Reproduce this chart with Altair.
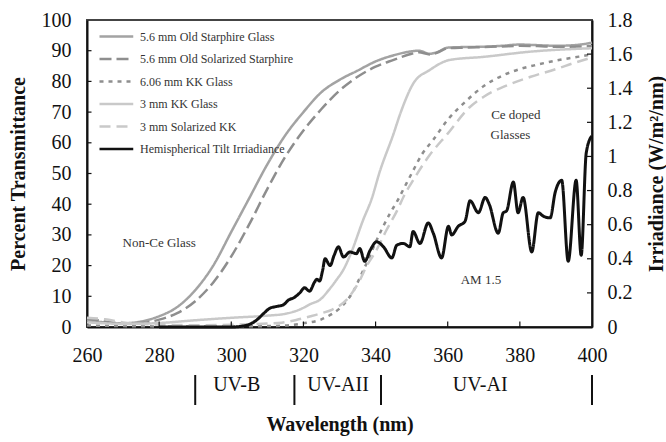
import altair as alt
import pandas as pd

# ---------------- data ----------------
series_names = [
    "5.6 mm Old Starphire Glass",
    "5.6 mm Old Solarized Starphire",
    "6.06 mm KK Glass",
    "3 mm KK Glass",
    "3 mm Solarized KK",
    "Hemispherical Tilt Irriadiance",
]
series_colors = ["#a3a3a3", "#8e8e8e", "#8e8e8e", "#c9c9c9", "#c9c9c9", "#111111"]
series_dashes = [[1, 0], [12, 5], [4, 5], [1, 0], [11, 6], [1, 0]]

starphire_wl = [260, 265, 270, 275, 280, 285, 290, 295, 300, 305, 310, 315, 320, 325, 330,
                335, 340, 345, 350, 352, 355, 357, 360, 365, 370, 375, 380, 385, 390, 395, 400]
starphire_t = [2.2, 1.5, 1.2, 1.8, 3.5, 6.5, 12, 20, 31, 42, 53, 62.5, 70, 76.5, 80.5,
               83.5, 86.5, 88.5, 89.8, 90, 89, 89.5, 91, 91.2, 91.3, 91.6, 92, 91.8, 91.6, 91.8, 92.6]

sol_star_wl = [260, 265, 270, 275, 280, 285, 290, 295, 300, 305, 310, 315, 320, 325, 330,
               335, 340, 345, 350, 352, 355, 357, 360, 365, 370, 375, 380, 385, 390, 395, 400]
sol_star_t = [2.8, 1.8, 1.2, 1.3, 2.4, 4.5, 8.4, 14.5, 23, 33.5, 45, 55.5, 64, 71, 77,
              81.5, 84.8, 87, 89, 89.5, 88.8, 89.3, 90.8, 91, 91.2, 91.4, 91.6, 91.5, 91.3, 91.3, 91.5]

kk606_wl = [260, 270, 280, 290, 300, 310, 315, 320, 325, 328, 330, 332, 334, 336, 338, 340,
            342, 344, 346, 348, 350, 353, 356, 360, 365, 370, 375, 380, 385, 390, 395, 400]
kk606_t = [0.5, 0.3, 0.2, 0.2, 0.2, 0.3, 0.5, 1.2, 2.5, 4.3, 6, 8.5, 12, 17, 22, 27.5,
           32.5, 37, 41, 45.5, 50, 56.5, 61, 67.5, 73.5, 78.5, 81.8, 84, 85.5, 86.8, 87.8, 88.8]

kk3_wl = [260, 265, 270, 280, 290, 300, 310, 315, 319, 322, 324.6, 327, 329.2, 331, 333,
          336.6, 339, 341, 345, 347, 350.5, 355, 360.6, 370, 383, 400]
kk3_t = [1.5, 1.2, 1.0, 1.3, 2.2, 3.0, 3.7, 4.3, 5.7, 7.5, 8.9, 12, 15.4, 18.5, 23.5,
         35, 42, 50, 63, 70, 79.4, 83.7, 87, 88, 89.7, 90.8]

kk3sol_wl = [260, 265, 270, 280, 290, 300, 305, 310, 314, 318, 322, 325, 328, 332, 335.7,
             337.5, 340, 343, 346, 348, 350, 355, 360, 366, 370, 377, 383, 390, 395, 400]
kk3sol_t = [3, 2.5, 1.5, 0.8, 0.6, 0.7, 0.9, 1.1, 1.4, 2.3, 3.5, 4.5, 5.7, 8.9, 15.4,
            19.8, 24.5, 31.5, 38, 43, 47, 56, 63, 71.5, 75, 79, 81.5, 84, 86, 87.8]

irr_wl = [280, 290, 295, 300, 303, 305, 307, 309, 310.7, 312.5, 314.4, 316, 317.2, 319, 320.3,
          321.7, 323, 323.7, 324.5, 325.3, 326, 327.4, 328.5, 329.7, 331.1, 332.9, 334.7, 335.6,
          337, 338.5, 340.3, 342.2, 344.5, 345.9, 347.7, 349.5, 350.4, 352.3, 354.6, 356, 358.3,
          360.2, 361.1, 362.9, 364.8, 366.2, 368.5, 370.4, 371.5, 374, 375.4, 376.3, 378.2,
          379.5, 380.9, 383.3, 385.1, 386.5, 388.4, 389.8, 391.6, 393.4, 395.6, 397, 398.4, 399.9]
irr_val = [0, 0, 0, 0, 0.005, 0.015, 0.04, 0.08, 0.11, 0.12, 0.13, 0.16, 0.17, 0.2, 0.23,
           0.21, 0.26, 0.28, 0.27, 0.33, 0.4, 0.36, 0.42, 0.47, 0.41, 0.44, 0.43, 0.46,
           0.385, 0.45, 0.5, 0.47, 0.405, 0.48, 0.49, 0.47, 0.56, 0.49, 0.61, 0.55, 0.405,
           0.59, 0.54, 0.59, 0.62, 0.74, 0.67, 0.76, 0.72, 0.55, 0.67, 0.68, 0.85,
           0.67, 0.76, 0.44, 0.67, 0.65, 0.64, 0.79, 0.86, 0.385, 0.86, 0.42, 1.02, 1.12]

x_tick_values = [260, 280, 300, 320, 340, 360, 380, 400]
left_tick_values = [0, 10, 20, 30, 40, 50, 60, 70, 80, 90, 100]
right_tick_values = [0, 0.2, 0.4, 0.6, 0.8, 1.0, 1.2, 1.4, 1.6, 1.8]

note_text = ["Non-Ce Glass", "Ce doped", "Glasses", "AM 1.5"]
note_wl = [280, 378.9, 377.4, 369.2]
note_pct = [27.5, 69.1, 62.6, 15.4]

uv_names = ["UV-B", "UV-AII", "UV-AI"]
uv_centers = [301.5, 329.6, 369]
uv_bounds = [290, 317.5, 341.5, 400]

# ---------------- frames ----------------
glass = pd.concat([
    pd.DataFrame({"series": series_names[0], "wl": starphire_wl, "pct": starphire_t}),
    pd.DataFrame({"series": series_names[1], "wl": sol_star_wl, "pct": sol_star_t}),
    pd.DataFrame({"series": series_names[2], "wl": kk606_wl, "pct": kk606_t}),
    pd.DataFrame({"series": series_names[3], "wl": kk3_wl, "pct": kk3_t}),
    pd.DataFrame({"series": series_names[4], "wl": kk3sol_wl, "pct": kk3sol_t}),
], ignore_index=True)
irr = pd.DataFrame({"series": series_names[5], "wl": irr_wl, "irr": irr_val})
notes = pd.DataFrame({"text": note_text, "wl": note_wl, "pct": note_pct})
uv = pd.DataFrame({"name": uv_names, "wl": uv_centers})
uvb = pd.DataFrame({"wl": uv_bounds})
xt = pd.DataFrame({"v": x_tick_values[1:-1]})
lt = pd.DataFrame({"v": left_tick_values[1:-1]})
rt = pd.DataFrame({"v": right_tick_values[1:-1]})

W, H = 505, 307
FONT = "Liberation Serif"

xscale = alt.Scale(domain=[260, 400], nice=False, zero=False)
xaxis = alt.Axis(values=x_tick_values, title="Wavelength (nm)", labelPadding=18,
                 titleY=97, titleBaseline="middle")
lscale = alt.Scale(domain=[0, 100], nice=False)
laxis = alt.Axis(values=left_tick_values, title="Percent Transmittance", orient="left",
                 labelPadding=16, titleX=-69, titleY=H / 2, titleBaseline="middle",
                 titleAngle=-90)
rscale = alt.Scale(domain=[0, 1.8], nice=False)
raxis = alt.Axis(values=right_tick_values, format="~g", title="Irriadiance (W/m²/nm)",
                 orient="right", labelPadding=15, titleX=64, titleY=H / 2,
                 titleBaseline="middle", titleAngle=-90)


def X(field):
    return alt.X(field, type="quantitative", scale=xscale, axis=xaxis)


def YL(field):
    return alt.Y(field, type="quantitative", scale=lscale, axis=laxis)


def YR(field):
    return alt.Y(field, type="quantitative", scale=rscale, axis=raxis)


legend = alt.Legend(orient="none", legendX=11, legendY=7.5, title=None,
                    symbolType="M-1,0H3.5", symbolSize=225, symbolStrokeWidth=2.5,
                    labelOffset=24, labelFontSize=12, labelFont=FONT, labelColor="#333333",
                    rowPadding=7.5, padding=0, direction="vertical")
color = alt.Color("series:N", scale=alt.Scale(domain=series_names, range=series_colors),
                  legend=legend)
dash = alt.StrokeDash("series:N", scale=alt.Scale(domain=series_names, range=series_dashes),
                      legend=legend)

glass_lines = alt.Chart(glass).mark_line(strokeWidth=2.5, interpolate="monotone").encode(
    x=X("wl"), y=YL("pct"), color=color, strokeDash=dash,
    order=alt.Order("wl:Q"), detail="series:N")

left_ticks = alt.Chart(lt).mark_rule(color="#111", strokeWidth=1.2).encode(
    y=YL("v"), x=alt.value(0), x2=alt.value(4.5))
x_ticks = alt.Chart(xt).mark_rule(color="#111", strokeWidth=1.2).encode(
    x=X("v"), y=alt.value(H), y2=alt.value(H - 5.5))
note_marks = alt.Chart(notes).mark_text(font=FONT, fontSize=13, color="#333333",
                                        align="center", baseline="middle").encode(
    x=X("wl"), y=YL("pct"), text="text:N")
uv_text = alt.Chart(uv).mark_text(font=FONT, fontSize=20, color="#111",
                                  align="center", baseline="middle").encode(
    x=X("wl"), y=alt.value(365), text="name:N")
uv_sep = alt.Chart(uvb).mark_rule(color="#111", strokeWidth=2).encode(
    x=X("wl"), y=alt.value(355), y2=alt.value(385))

irr_line = alt.Chart(irr).mark_line(strokeWidth=3, interpolate="monotone").encode(
    x=X("wl"), y=YR("irr"), color=color, strokeDash=dash)
right_ticks = alt.Chart(rt).mark_rule(color="#111", strokeWidth=1.2).encode(
    y=YR("v"), x=alt.value(W), x2=alt.value(W - 5))

left_group = alt.layer(glass_lines, left_ticks, x_ticks, note_marks, uv_text, uv_sep)
right_group = alt.layer(irr_line, right_ticks)

chart = alt.layer(left_group, right_group).resolve_scale(
    y="independent"
).properties(
    width=W, height=H,
    autosize=alt.AutoSizeParams(type="none"),
    padding={"left": 87, "top": 20, "right": 74, "bottom": 115},
    background="white",
).configure_view(
    stroke="#444444", strokeWidth=2
).configure_axis(
    labelFont=FONT, titleFont=FONT, labelFontSize=20, titleFontSize=20,
    labelColor="#111", titleColor="#111", titleFontWeight="bold",
    ticks=False, tickSize=0, grid=False, domainColor="#111", domainWidth=2,
    labelFlush=False, labelOverlap=False
)

chart.save("out.html", embed_options={"renderer": "svg", "actions": False})
